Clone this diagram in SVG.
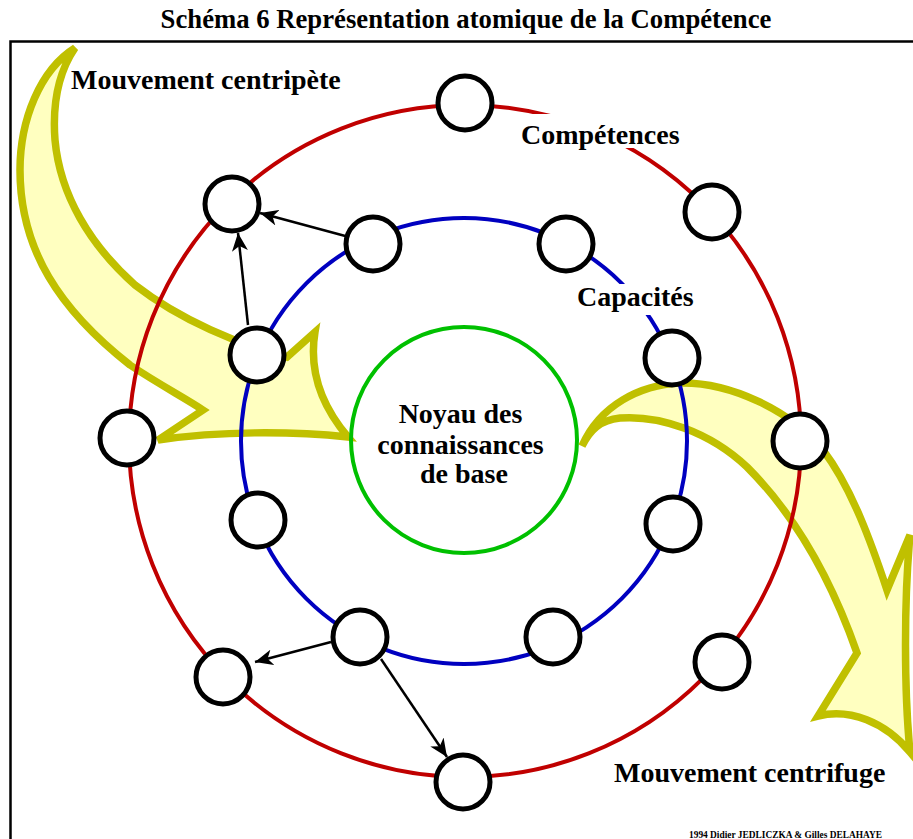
<svg xmlns="http://www.w3.org/2000/svg" width="913" height="839" viewBox="0 0 913 839">
  <defs>
    <marker id="head" markerUnits="userSpaceOnUse" markerWidth="20" markerHeight="16" refX="18" refY="8" orient="auto">
      <path d="M0,0 L18,8 L0,16 L5,8 Z" fill="#000"/>
    </marker>
    <style>
      .ring { fill: none; stroke-width: 4; }
      .node { fill: #fff; stroke: #000; stroke-width: 5; }
      .flow { fill: #FFFFC0; stroke: #C0C000; stroke-width: 7.5; stroke-linejoin: miter; }
      .link { stroke: #000; stroke-width: 2.5; fill: none; marker-end: url(#head); }
      .lbl { font-family: "Liberation Serif", "Times New Roman", serif; font-weight: bold; fill: #000; }
      .bg { fill: #fff; }
    </style>
  </defs>

  <!-- title and frame -->
  <text class="lbl" x="466" y="28" font-size="26.7" text-anchor="middle">Schéma 6 Représentation atomique de la Compétence</text>
  <path d="M10.5,839 V41.5 H913" fill="none" stroke="#000" stroke-width="2.5"/>

  <!-- movement arrows -->
  <g id="centripete">
    <path class="flow" d="M75,48 C40,70 20,120 20,170 C20,250 60,310 130,365 C160,385 185,398 203,410 L158,440 C220,431 290,431 348,437 C325,410 308,375 315,332 L287,357 C240,345 180,320 135,285 C90,245 60,195 55,140 C52,100 60,70 75,48 Z"/>
  </g>
  <g id="centrifuge">
    <path class="flow" d="M582,446 C600,405 640,385 680,383 C730,382 790,410 823,450 C852,488 872,545 887,590 L910,535 C904,600 904,690 910,752 C885,722 850,708 818,716 L857,653 C835,590 800,520 747,467 C710,432 660,415 620,418 C600,420 590,430 582,446 Z"/>
  </g>

  <!-- orbits -->
  <g id="orbits">
    <circle class="ring" cx="465" cy="441" r="336" stroke="#C00000"/>
    <circle class="ring" cx="464" cy="441" r="223" stroke="#0000C0"/>
    <circle class="ring" cx="464" cy="440" r="113" stroke="#00C000"/>
  </g>

  <!-- orbit labels -->
  <g id="label-competences">
    <rect class="bg" x="515" y="114" width="170" height="34"/>
    <text class="lbl" x="521" y="144" font-size="28">Compétences</text>
  </g>
  <g id="label-capacites">
    <rect class="bg" x="572" y="284" width="126" height="31"/>
    <text class="lbl" x="577" y="306" font-size="28">Capacités</text>
  </g>
  <g id="noyau">
    <text class="lbl" font-size="28" text-anchor="middle">
      <tspan x="464" y="423">Noyau des</tspan>
      <tspan x="464" y="454">connaissances</tspan>
      <tspan x="464" y="483">de base</tspan>
    </text>
  </g>

  <!-- outer nodes (competences) -->
  <g id="c1"><circle class="node" cx="465" cy="103" r="27"/></g>
  <g id="c2"><circle class="node" cx="232" cy="204" r="27"/></g>
  <g id="c3"><circle class="node" cx="712" cy="212" r="27"/></g>
  <g id="c4"><circle class="node" cx="127" cy="438" r="27"/></g>
  <g id="c5"><circle class="node" cx="800" cy="441" r="27"/></g>
  <g id="c6"><circle class="node" cx="223" cy="677" r="27"/></g>
  <g id="c7"><circle class="node" cx="722" cy="662" r="27"/></g>
  <g id="c8"><circle class="node" cx="463" cy="782" r="27"/></g>

  <!-- inner nodes (capacites) -->
  <g id="k1"><circle class="node" cx="373" cy="244" r="27"/></g>
  <g id="k2"><circle class="node" cx="566" cy="244" r="27"/></g>
  <g id="k3"><circle class="node" cx="257" cy="355" r="27"/></g>
  <g id="k4"><circle class="node" cx="672" cy="358" r="27"/></g>
  <g id="k5"><circle class="node" cx="258" cy="520" r="27"/></g>
  <g id="k6"><circle class="node" cx="673" cy="524" r="27"/></g>
  <g id="k7"><circle class="node" cx="360" cy="637" r="27"/></g>
  <g id="k8"><circle class="node" cx="553" cy="637" r="27"/></g>

  <!-- links -->
  <g id="links">
    <line class="link" x1="248" y1="325" x2="238" y2="233"/>
    <line class="link" x1="349" y1="237" x2="260" y2="213"/>
    <line class="link" x1="331" y1="642" x2="255" y2="662"/>
    <line class="link" x1="381" y1="659" x2="447" y2="757"/>
  </g>

  <!-- movement labels -->
  <text class="lbl" x="71" y="89" font-size="28">Mouvement centripète</text>
  <text class="lbl" x="614" y="782" font-size="28">Mouvement centrifuge</text>
  <text class="lbl" x="689" y="838" font-size="9.4">1994 Didier JEDLICZKA &amp; Gilles DELAHAYE</text>
</svg>
